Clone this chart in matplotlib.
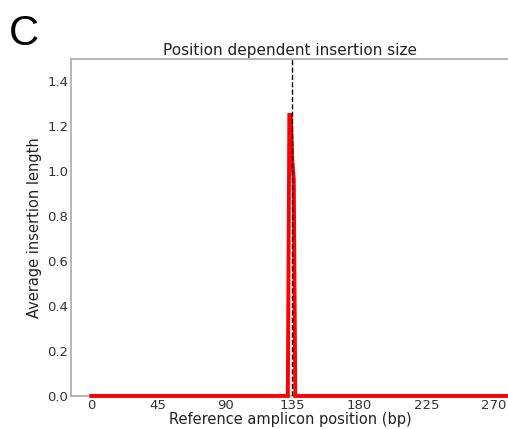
import numpy as np
import matplotlib.pyplot as plt

amplicon_len = 283
cut_site = 135
spike_pos = [133, 134, 135, 136]
spike_vals = [1.25, 1.25, 1.05, 0.96]
x_ticks = [0, 45, 90, 135, 180, 225, 270]
y_ticks = [0.0, 0.2, 0.4, 0.6, 0.8, 1.0, 1.2, 1.4]

avg_ins = np.zeros(amplicon_len)
avg_ins[spike_pos] = spike_vals

fig = plt.figure(figsize=(5.08, 4.29), dpi=100)
ax = fig.add_axes([0.140, 0.077, 0.862, 0.786])

ax.plot(np.arange(amplicon_len), avg_ins, color='red', lw=2.8, clip_on=False,
        solid_capstyle='projecting', solid_joinstyle='miter', zorder=3)
ax.axvline(cut_site, color='black', ls='--', lw=1, zorder=4)

ax.set_xlim(-13.5, 280.5)
ax.set_ylim(0, 1.5)
ax.set_xticks(x_ticks)
ax.set_yticks(y_ticks)
ax.set_yticklabels([f"{v:.1f}" for v in y_ticks])
ax.tick_params(length=0, labelsize=9.5, colors='#333333', pad=2)

for s in ax.spines.values():
    s.set_color('#aaaaaa')
    s.set_linewidth(1.2)

ax.set_title('Position dependent insertion size', fontsize=11, color='#222222', pad=3)
ax.set_xlabel('Reference amplicon position (bp)', fontsize=10.5, color='#222222', labelpad=0)
ax.set_ylabel('Average insertion length', fontsize=10.5, color='#222222', labelpad=4)

fig.text(0.018, 0.895, 'C', fontsize=30, family='Liberation Sans', color='black')

fig.savefig('out.png', dpi=100)
